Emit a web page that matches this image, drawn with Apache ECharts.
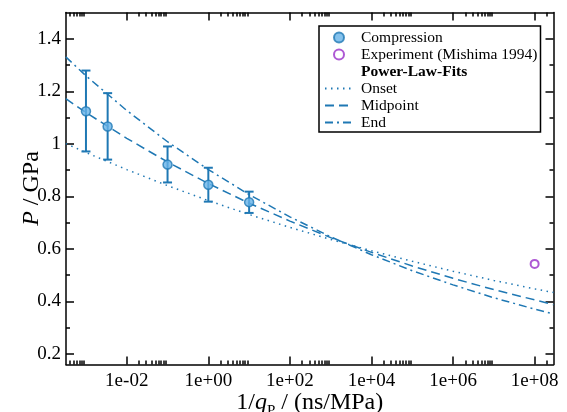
<!DOCTYPE html>
<html><head><meta charset="utf-8">
<script src="https://cdn.jsdelivr.net/npm/echarts@6/dist/echarts.min.js"></script>
<style>html,body{margin:0;padding:0;background:#fff}#c{width:567px;height:412px}</style>
</head><body><div id="c"></div>
<script>
// ---- data ----
const compX  = [1e-3, 3.4e-3, 0.1, 1, 10];
const compP  = [1.124, 1.066, 0.921, 0.844, 0.778];
const compLo = [0.971, 0.940, 0.853, 0.780, 0.737];
const compHi = [1.279, 1.193, 0.990, 0.909, 0.818];
const expX = [1e8];
const expP = [0.543];
const fitX   = [3.2e-4, 1e-3, 1e-2, 1e-1, 1, 1e1, 1e2, 1e3, 1e4, 1e5, 1e6, 1e7, 1e8, 2.9e8];
const onsetP = [1.001, 0.967, 0.902, 0.841, 0.784, 0.731, 0.682, 0.636, 0.593, 0.553, 0.515, 0.480, 0.448, 0.434];
const midP   = [1.172, 1.119, 1.021, 0.931, 0.849, 0.774, 0.706, 0.643, 0.587, 0.535, 0.488, 0.445, 0.406, 0.388];
const endP   = [1.331, 1.259, 1.127, 1.008, 0.902, 0.807, 0.722, 0.646, 0.578, 0.517, 0.463, 0.414, 0.371, 0.352];
const xMajor = [1e-2, 1, 1e2, 1e4, 1e6, 1e8];
const xTickLabels = ['1e-02', '1e+00', '1e+02', '1e+04', '1e+06', '1e+08'];
const xMinorMult = [2, 3, 4, 5, 6, 7, 8, 9];
const xMinorBase = [1e-4, 1e-2, 1, 1e2, 1e4, 1e6, 1e8];
const yMajor = [0.2, 0.4, 0.6, 0.8, 1.0, 1.2, 1.4];
const yTickLabels = ['0.2', '0.4', '0.6', '0.8', '1', '1.2', '1.4'];
const yMinor = [0.3, 0.5, 0.7, 0.9, 1.1, 1.3];
const xMin = 3.24e-4, xMax = 2.9e8, yMin = 0.16, yMax = 1.5;

// ---- styling ----
const SERIF = '"Liberation Serif","Times New Roman",serif';
const BLUE = '#1f78b4';
const FILL = '#67b3e8';
const PURPLE = '#9a2fc9';
const BLACK = '#000';

const xMinor = [];
xMinorBase.forEach(b => xMinorMult.forEach(m => xMinor.push(b * m)));

function xLabel(v) {
  let best = 0, bd = Infinity;
  xMajor.forEach((m, i) => { const d = Math.abs(Math.log10(v) - Math.log10(m)); if (d < bd) { bd = d; best = i; } });
  return xTickLabels[best];
}
function yLabel(v) {
  let best = 0, bd = Infinity;
  yMajor.forEach((m, i) => { const d = Math.abs(v - m); if (d < bd) { bd = d; best = i; } });
  return yTickLabels[best];
}

const lineSt = { color: BLACK, width: 1.5 };
function xAx(pos, major, showLine, showLabel, name) {
  const a = {
    type: 'log', logBase: 10, min: xMin, max: xMax, position: pos,
    axisLine: { show: showLine, lineStyle: lineSt },
    axisTick: { show: true, inside: true, length: major ? 8 : 4, customValues: major ? xMajor : xMinor, lineStyle: { color: BLACK, width: 1.5 } },
    axisLabel: { show: showLabel, customValues: xMajor, formatter: xLabel, fontFamily: SERIF, fontSize: 19, color: BLACK, margin: 7 },
    splitLine: { show: false }, minorTick: { show: false }
  };
  if (name) {
    a.name = '{n|1/}{i|q}{s|P}{n| / (ns/MPa)}';
    a.nameLocation = 'middle';
    a.nameGap = 22;
    a.nameMoveOverlap = false;
    a.nameTextStyle = {
      rich: {
        n: { fontFamily: SERIF, fontSize: 24, color: BLACK, lineHeight: 26, verticalAlign: 'middle' },
        i: { fontFamily: SERIF, fontSize: 24, fontStyle: 'italic', color: BLACK, lineHeight: 26, verticalAlign: 'middle' },
        s: { fontFamily: SERIF, fontSize: 15, color: BLACK, lineHeight: 32, verticalAlign: 'bottom' }
      }
    };
  }
  return a;
}
function yAx(pos, major, showLine, showLabel, name) {
  const a = {
    type: 'value', min: yMin, max: yMax, position: pos,
    axisLine: { show: showLine, lineStyle: lineSt },
    axisTick: { show: true, inside: true, length: major ? 8 : 4, customValues: major ? yMajor : yMinor, lineStyle: { color: BLACK, width: 1.5 } },
    axisLabel: { show: showLabel, customValues: yMajor, formatter: yLabel, fontFamily: SERIF, fontSize: 19, color: BLACK, margin: 5 },
    splitLine: { show: false }, minorTick: { show: false }
  };
  if (name) {
    a.name = '{i|P}{n| / GPa}';
    a.nameLocation = 'middle';
    a.nameGap = 22;
    a.nameRotate = 90;
    a.nameMoveOverlap = false;
    a.nameTextStyle = {
      rich: {
        n: { fontFamily: SERIF, fontSize: 24, color: BLACK },
        i: { fontFamily: SERIF, fontSize: 24, fontStyle: 'italic', color: BLACK }
      }
    };
  }
  return a;
}

function renderErr(params, api) {
  const x = api.value(0), lo = api.value(1), hi = api.value(2);
  const a = api.coord([x, lo]), b = api.coord([x, hi]);
  const st = { stroke: BLUE, lineWidth: 2 };
  const w = 4.5;
  return {
    type: 'group', children: [
      { type: 'line', shape: { x1: a[0], y1: a[1], x2: b[0], y2: b[1] }, style: st },
      { type: 'line', shape: { x1: a[0] - w, y1: a[1], x2: a[0] + w, y2: a[1] }, style: st },
      { type: 'line', shape: { x1: b[0] - w, y1: b[1], x2: b[0] + w, y2: b[1] }, style: st }
    ]
  };
}

const fitLine = (name, ys, dash) => ({
  name, type: 'line', xAxisIndex: 0, yAxisIndex: 0, symbol: 'none', showSymbol: false, silent: true, z: 2,
  data: fitX.map((x, i) => [x, ys[i]]),
  lineStyle: { color: BLUE, width: 1.5, type: dash },
  itemStyle: { color: BLUE }
});

const legendText = { fontFamily: SERIF, fontSize: 15.5, color: BLACK, padding: [0, 0, 0, 3] };
const option = {
  animation: false,
  backgroundColor: '#fff',
  grid: { left: 66, right: 13.5, top: 12.5, bottom: 47.5, containLabel: false, outerBoundsMode: 'none' },
  xAxis: [
    xAx('bottom', true, true, true, true),
    xAx('bottom', false, false, false, false),
    xAx('top', true, true, false, false),
    xAx('top', false, false, false, false)
  ],
  yAxis: [
    yAx('left', true, true, true, true),
    yAx('left', false, false, false, false),
    yAx('right', true, true, false, false),
    yAx('right', false, false, false, false)
  ],
  legend: {
    orient: 'vertical', left: 319, top: 26, selectedMode: false,
    padding: [3.5, 3, 1.5, 5], itemGap: 1, itemWidth: 28, itemHeight: 10,
    borderColor: BLACK, borderWidth: 1.5, backgroundColor: '#fff',
    textStyle: legendText,
    data: [
      { name: 'Compression', icon: 'circle' },
      { name: 'Experiment (Mishima 1994)', icon: 'circle' },
      { name: 'Power-Law-Fits', itemStyle: { opacity: 0 }, lineStyle: { opacity: 0 }, textStyle: Object.assign({}, legendText, { fontWeight: 'bold' }) },
      { name: 'Onset', itemStyle: { opacity: 0 } },
      { name: 'Midpoint', itemStyle: { opacity: 0 } },
      { name: 'End', itemStyle: { opacity: 0 } }
    ]
  },
  series: [
    fitLine('Onset', onsetP, [1.5, 4.5]),
    fitLine('Midpoint', midP, [9, 5]),
    fitLine('End', endP, [8, 4, 2, 4]),
    { name: 'Power-Law-Fits', type: 'line', data: [], symbol: 'none', lineStyle: { opacity: 0 }, itemStyle: { opacity: 0 } },
    {
      name: 'CompressionErr', type: 'custom', xAxisIndex: 0, yAxisIndex: 0, z: 3, silent: true,
      renderItem: renderErr, encode: { x: 0, y: [1, 2] },
      data: compX.map((x, i) => [x, compLo[i], compHi[i]])
    },
    {
      name: 'Compression', type: 'scatter', xAxisIndex: 0, yAxisIndex: 0, z: 4, symbol: 'circle', symbolSize: 9,
      data: compX.map((x, i) => [x, compP[i]]),
      itemStyle: { color: FILL, borderColor: BLUE, borderWidth: 1.5 }
    },
    {
      name: 'Experiment (Mishima 1994)', type: 'scatter', xAxisIndex: 0, yAxisIndex: 0, z: 4, symbol: 'circle', symbolSize: 8,
      data: expX.map((x, i) => [x, expP[i]]),
      itemStyle: { color: 'rgba(255,255,255,0)', borderColor: PURPLE, borderWidth: 2 }
    }
  ]
};
const chart = echarts.init(document.getElementById('c'), null, { renderer: 'canvas' });
chart.setOption(option);
</script>
</body></html>
